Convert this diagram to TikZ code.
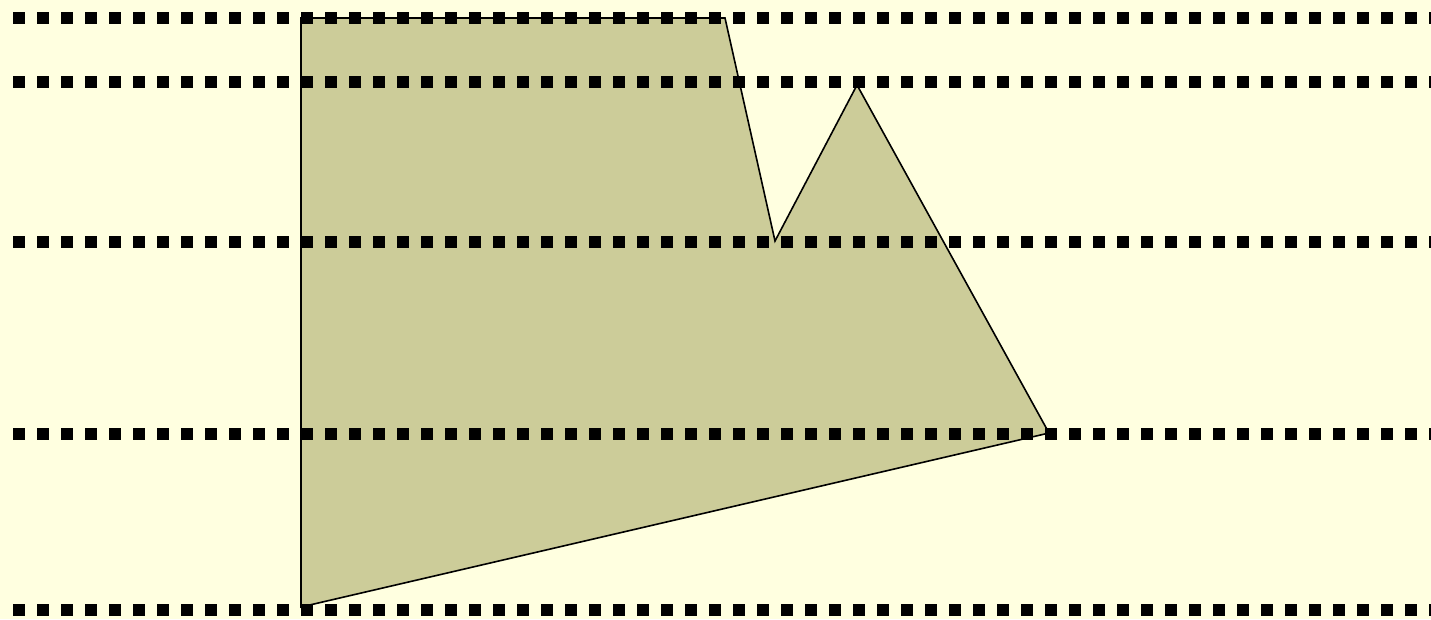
\documentclass[tikz,border=0pt]{standalone}
\usepackage{tikz}

\definecolor{paper}{HTML}{FFFFE0}
\definecolor{olive}{HTML}{CCCC99}

\tikzset{
  level/.style={line width=12pt, dash pattern=on 12pt off 12pt, black},
  region/.style={draw=black, line width=1.6pt, fill=olive, line join=miter}
}

\begin{document}
\begin{tikzpicture}[x=1pt, y=-1pt]
% Nền của hình
\fill[paper] (0,0) rectangle (1431,619);
\useasboundingbox (0,0) rectangle (1431,619);

% Miền đa giác
\draw[region] (301,18) -- (725,18) -- (775,241) -- (857,85) -- (1049,433) -- (301,607) -- cycle;

% Các đường mức chấm vuông
\begin{scope}
\clip (0,0) rectangle (1431,619);
\foreach \y in {18,82,242,434,610}
  \draw[level] (13,\y) -- (1440,\y);
\end{scope}
\end{tikzpicture}
\end{document}
